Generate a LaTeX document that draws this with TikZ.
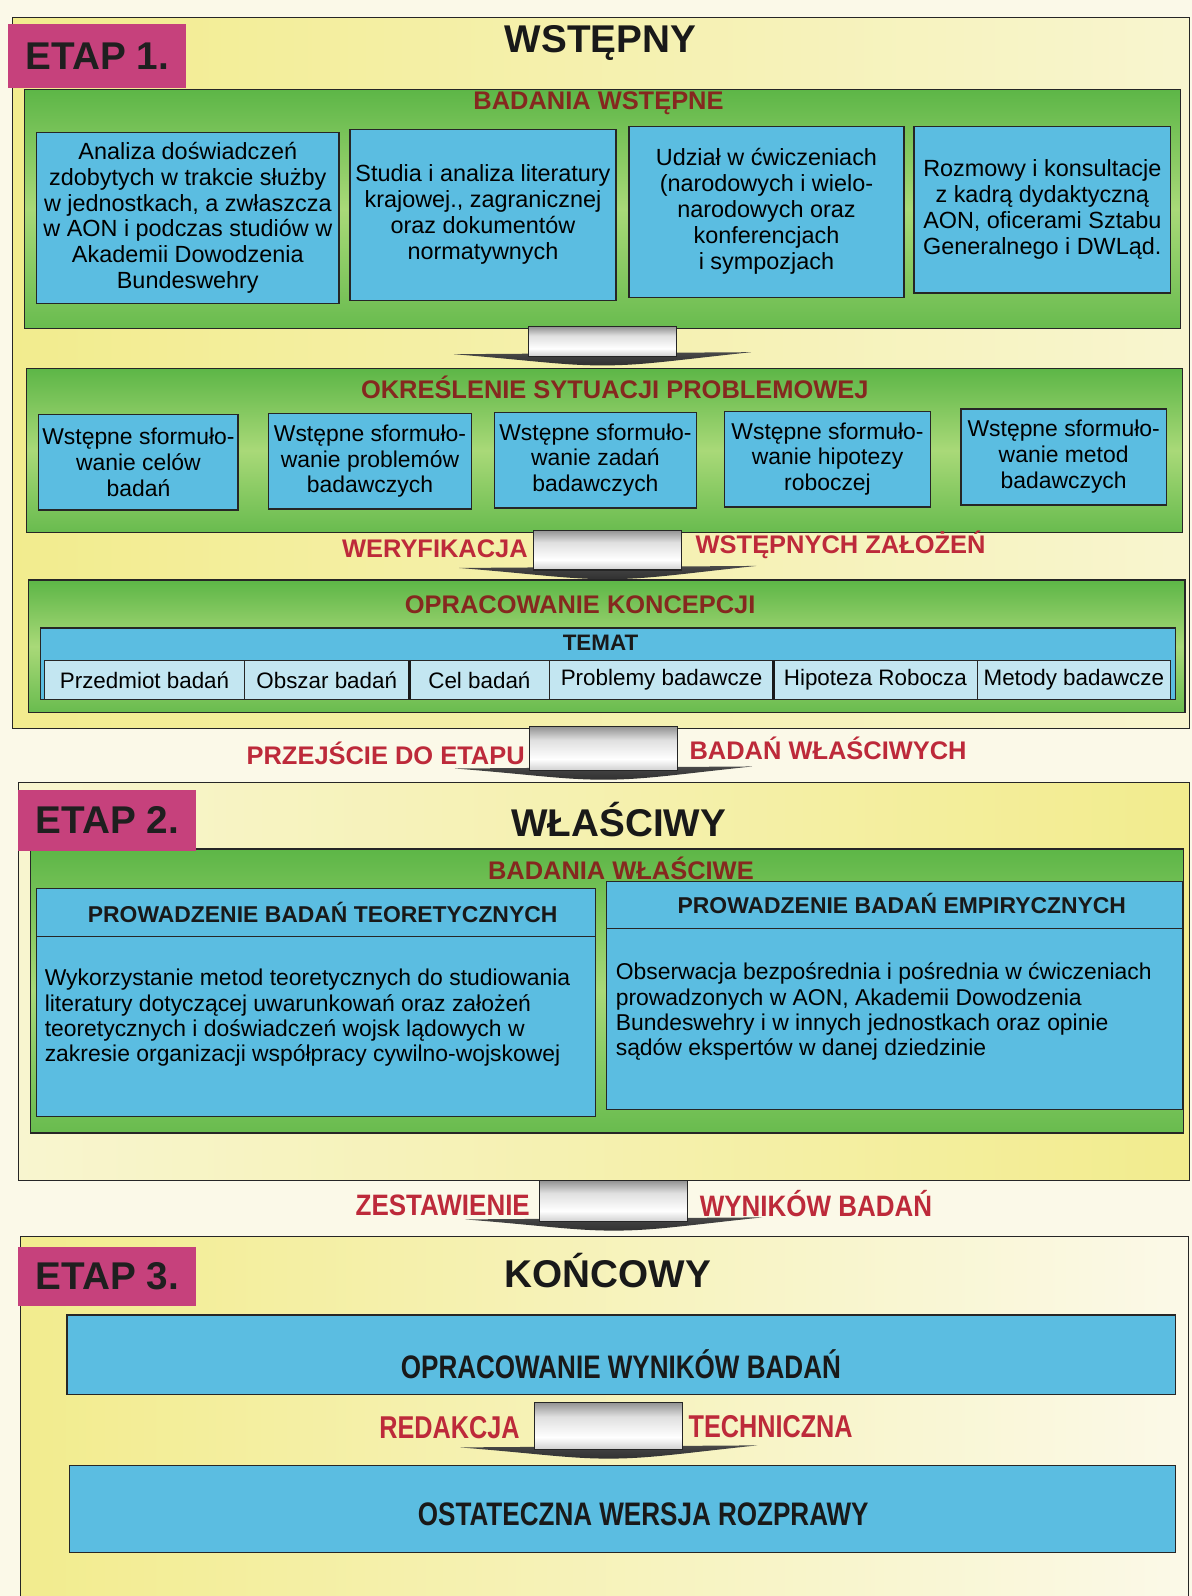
\documentclass[tikz,border=0pt]{standalone}
\usepackage{fontspec}
\setmainfont{Liberation Sans}
\newfontfamily\narrowsans[FakeStretch=0.8]{Liberation Sans}
\newfontfamily\semisans[FakeStretch=0.88]{Liberation Sans}
\usetikzlibrary{calc,positioning}

\definecolor{paper}{HTML}{FBF9E8}
\definecolor{paleyellow}{HTML}{F8F5CF}
\definecolor{stageyellow}{HTML}{F2EC8E}
\definecolor{panelgreen}{HTML}{5DB647}
\definecolor{panellight}{HTML}{A9D978}
\definecolor{boxblue}{HTML}{5BBDE1}
\definecolor{cellblue}{HTML}{C3E6F1}
\definecolor{etapmagenta}{HTML}{C6417C}
\definecolor{headred}{HTML}{85281F}
\definecolor{labelred}{HTML}{BD2A3A}

% shading of the arrow shaft (bottom -> top) and of its flat head
\pgfdeclareverticalshading{shaftshade}{100bp}{%
  color(0bp)=(black!70); color(10bp)=(gray!80); color(38bp)=(white);
  color(60bp)=(gray!25); color(84bp)=(gray!80!black); color(100bp)=(black!85)}
\pgfdeclareverticalshading{headshade}{100bp}{%
  color(0bp)=(black!85); color(60bp)=(black!75); color(100bp)=(gray!70!black)}

% block arrow: name, centre x, top y, bottom y
\newcommand\flowarrow[4]{%
  \shade[shading=headshade]
    (#2-146,#4-2) -- (#2+146,#4-4)
    .. controls (#2+70,#4+4) and (#2+40,#4+9) .. (#2,#4+9)
    .. controls (#2-40,#4+9) and (#2-70,#4+4) .. cycle;
  \node[shaft, minimum width=145, minimum height={#4-#3}] (#1) at (#2,{(#3+#4)/2}) {};
}

\begin{document}
\begin{tikzpicture}[x=1pt, y=-1pt,
  every node/.style={inner sep=0pt, outer sep=0pt},
  stagebox/.style={draw=black!85, line width=0.9pt, anchor=north west},
  etap/.style={fill=etapmagenta, anchor=north west, minimum width=175, text=black!88,
    font=\fontsize{38}{40}\selectfont\bfseries},
  stagetitle/.style={text=black!90, font=\fontsize{38}{40}\selectfont\bfseries},
  greenpanel/.style={draw=black!85, line width=1.4pt, anchor=north west,
    top color=panelgreen, bottom color=panelgreen!85!panellight, middle color=panellight},
  panelhead/.style={text=headred, font=\fontsize{25}{27}\selectfont\bfseries},
  bluebox/.style={draw=black!85, line width=1.4pt, fill=boxblue, anchor=north west,
    align=center, font=\fontsize{23}{25.5}\selectfont},
  smallbox/.style={bluebox, font=\fontsize{22.5}{25.5}\selectfont, minimum height=94},
  cell/.style={draw=black!85, line width=1pt, fill=cellblue, anchor=north west,
    minimum height=38, font=\fontsize{22}{24}\selectfont},
  boxhead/.style={text=black!90, font=\fontsize{22.5}{24}\selectfont\bfseries},
  bodytext/.style={align=left, anchor=west, font=\fontsize{22.5}{25}\selectfont},
  flowlabel/.style={text=labelred, font=\fontsize{25}{27}\selectfont\bfseries},
  flowlabelsemi/.style={text=labelred, font=\fontsize{29}{31}\semisans\bfseries},
  flowlabelnarrow/.style={text=labelred, font=\fontsize{31}{33}\narrowsans\bfseries},
  finalbox/.style={draw=black!85, line width=1.4pt, fill=boxblue, anchor=north west},
  finaltext/.style={text=black!90, font=\fontsize{32}{34}\narrowsans\bfseries},
  shaft/.style={shading=shaftshade, draw=black!85, line width=1pt},
]
% paper
\fill[paper] (0,0) rectangle (1171,1568);
\useasboundingbox (0,0) rectangle (1171,1568);

% ================= STAGE 1 =================
\node[stagebox, minimum width=1157, minimum height=699,
      left color=stageyellow, right color=paleyellow] (st1) at (12,17) {};
\node[etap, minimum height=62] (e1) at (8,24) {ETAP 1.};
\node[stagetitle] (s1t) at (590,42) {WSTĘPNY};

% preliminary research
\node[greenpanel, minimum width=1136, minimum height=235] (gp1) at (24,88) {};
\node[panelhead] (gp1t) at (588,101) {BADANIA WSTĘPNE};
\node[bluebox, minimum width=297, minimum height=168] (b1) at (36,130)
  {Analiza doświadczeń\\zdobytych w trakcie służby\\w jednostkach, a zwłaszcza\\w AON i podczas studiów w\\Akademii Dowodzenia\\Bundeswehry};
\node[bluebox, minimum width=261, minimum height=168] (b2) at (344,127)
  {Studia i analiza literatury\\krajowej., zagranicznej\\oraz dokumentów\\normatywnych};
\node[bluebox, minimum width=270, minimum height=168] (b3) at (618,124)
  {Udział w ćwiczeniach\\(narodowych i wielo-\\narodowych oraz\\konferencjach\\i sympozjach};
\node[bluebox, minimum width=252, minimum height=164] (b4) at (898,124)
  {Rozmowy i konsultacje\\z kadrą dydaktyczną\\AON, oficerami Sztabu\\Generalnego i DWLąd.};

% problem situation
\node[greenpanel, minimum width=1136, minimum height=161] (gp2) at (26,362) {};
\node[panelhead] (gp2t) at (604,381) {OKREŚLENIE SYTUACJI PROBLEMOWEJ};
\node[smallbox, minimum width=196] (c1) at (38,407) {Wstępne sformuło-\\wanie celów\\badań};
\node[smallbox, minimum width=199] (c2) at (264,406) {Wstępne sformuło-\\wanie problemów\\badawczych};
\node[smallbox, minimum width=198] (c3) at (486,405) {Wstępne sformuło-\\wanie zadań\\badawczych};
\node[smallbox, minimum width=202] (c4) at (712,404) {Wstępne sformuło-\\wanie hipotezy\\roboczej};
\node[smallbox, minimum width=202] (c5) at (944,402) {Wstępne sformuło-\\wanie metod\\badawczych};

% concept
\node[greenpanel, minimum width=1136, minimum height=130] (gp3) at (28,570) {};
\node[panelhead] (gp3t) at (570,594) {OPRACOWANIE KONCEPCJI};
\node[finalbox, line width=1.2pt, minimum width=1115, minimum height=70] (tm) at (40,617) {};
\node[boxhead, font=\fontsize{22}{24}\selectfont\bfseries] (tmt) at (590,632) {TEMAT};
\node[cell, minimum width=196] (k1) at (44,649) {Przedmiot badań};
\node[cell, minimum width=162] (k2) at (240,649) {Obszar badań};
\node[cell, minimum width=138] (k3) at (402,649) {Cel badań};
\node[cell, minimum width=220] (k4) at (540,649) {Problemy badawcze};
\node[cell, minimum width=200] (k5) at (760,649) {Hipoteza Robocza};
\node[cell, minimum width=190] (k6) at (960,649) {Metody badawcze};
\draw[line width=3pt, black!90] (k2.north east) -- (k2.south east);
\draw[line width=3pt, black!90] (k4.north east) -- (k4.south east);

% ================= STAGE 2 =================
\node[stagebox, minimum width=1151, minimum height=391,
      left color=paleyellow, right color=stageyellow] (st2) at (18,769) {};
\node[greenpanel, minimum width=1133, minimum height=279] (gp4) at (30,834) {};
\node[etap, minimum height=60] (e2) at (18,776) {ETAP 2.};
\node[stagetitle] (s2t) at (608,805) {WŁAŚCIWY};

\node[finalbox, minimum width=549, minimum height=224] (lb) at (36,873) {};
\node[finalbox, minimum width=566, minimum height=224] (rb) at (596,866) {};
\node[panelhead] (gp4t) at (610,853) {BADANIA WŁAŚCIWE};
\coordinate (lbdiv) at (0,920);
\coordinate (rbdiv) at (0,912);
\draw[line width=1.4pt, black!85] (lb.west |- lbdiv) -- (lb.east |- lbdiv);
\draw[line width=1.4pt, black!85] (rb.west |- rbdiv) -- (rb.east |- rbdiv);
\node[boxhead] (lbh) at (317,896) {PROWADZENIE BADAŃ TEORETYCZNYCH};
\node[boxhead] (rbh) at (886,888) {PROWADZENIE BADAŃ EMPIRYCZNYCH};
\node[bodytext] (lbt) at (44,1000)
  {Wykorzystanie metod teoretycznych do studiowania\\literatury dotyczącej uwarunkowań oraz założeń\\teoretycznych i doświadczeń wojsk lądowych w\\zakresie organizacji współpracy cywilno-wojskowej};
\node[bodytext] (rbt) at (605,994)
  {Obserwacja bezpośrednia i pośrednia w ćwiczeniach\\prowadzonych w AON, Akademii Dowodzenia\\Bundeswehry i w innych jednostkach oraz opinie\\sądów ekspertów w danej dziedzinie};

% ================= STAGE 3 =================
\node[stagebox, minimum width=1148, minimum height=360,
      left color=stageyellow, right color=paper] (st3) at (20,1215) {};
\node[etap, minimum height=58] (e3) at (18,1225) {ETAP 3.};
\node[stagetitle] (s3t) at (597,1248) {KOŃCOWY};
\node[finalbox, minimum width=1089, minimum height=78] (ob1) at (66,1292) {};
\node[finaltext] (ob1t) at (610,1340) {OPRACOWANIE WYNIKÓW BADAŃ};
\node[finalbox, minimum width=1087, minimum height=85] (ob2) at (68,1440) {};
\node[finaltext] (ob2t) at (632,1488) {OSTATECZNA WERSJA ROZPRAWY};

% ================= transitions =================
\flowarrow{ar1}{592}{321}{350}
\flowarrow{ar2}{597}{521}{560}
\node[flowlabel, left=6pt of ar2, yshift=1pt] (ar2l) {WERYFIKACJA};
\node[flowlabel, right=14pt of ar2, yshift=5pt] (ar2r) {WSTĘPNYCH ZAŁOŻEŃ};
\flowarrow{ar3}{593}{714}{757}
\node[flowlabel, left=5pt of ar3, yshift=-5pt] (ar3l) {PRZEJŚCIE DO ETAPU};
\node[flowlabel, right=12pt of ar3] (ar3r) {BADAŃ WŁAŚCIWYCH};
\flowarrow{ar4}{603}{1160}{1200}
\node[flowlabelsemi, left=10pt of ar4, yshift=-4pt] (ar4l) {ZESTAWIENIE};
\node[flowlabelsemi, right=12pt of ar4, yshift=-2pt] (ar4r) {WYNIKÓW BADAŃ};
\flowarrow{ar5}{598}{1378}{1424}
\node[flowlabelnarrow, left=15pt of ar5, yshift=-2pt] (ar5l) {REDAKCJA};
\node[flowlabelnarrow, right=6pt of ar5, yshift=-1pt] (ar5r) {TECHNICZNA};
\end{tikzpicture}
\end{document}
